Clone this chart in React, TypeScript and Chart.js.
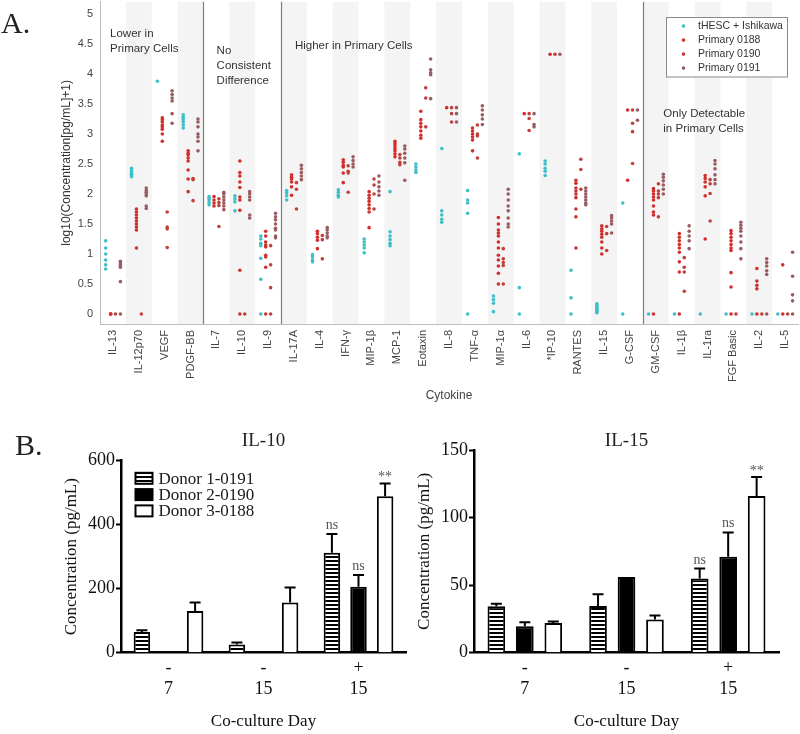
import React, { useEffect, useRef } from 'react';
import { Chart, registerables } from 'chart.js';

Chart.register(...registerables);

const SANS = "'Liberation Sans', Arial, Helvetica, sans-serif";
const SERIF = "'Liberation Serif', 'Times New Roman', serif";

// ---------------- Panel A data ----------------
const cytokines = [
  'IL-13', 'IL-12p70', 'VEGF', 'PDGF-BB', 'IL-7', 'IL-10', 'IL-9', 'IL-17A', 'IL-4', 'IFN-γ',
  'MIP-1β', 'MCP-1', 'Eotaxin', 'IL-8', 'TNF-α', 'MIP-1α', 'IL-6', '*IP-10', 'RANTES', 'IL-15',
  'G-CSF', 'GM-CSF', 'IL-1β', 'IL-1ra', 'FGF Basic', 'IL-2', 'IL-5',
];

const yTicksA = [0, 0.5, 1, 1.5, 2, 2.5, 3, 3.5, 4, 4.5, 5];

const tHESC: number[][] = [
  [1.22, 1.1, 1.0, 0.9, 0.82, 0.75],
  [2.43, 2.4, 2.37, 2.35, 2.33, 2.31, 2.29],
  [3.88],
  [3.32, 3.28, 3.24, 3.2, 3.15, 3.1],
  [1.96, 1.93, 1.9, 1.86, 1.82],
  [1.97, 1.92, 1.87, 1.72],
  [1.3, 1.25, 1.18, 1.14, 0.93, 0.58, 0],
  [2.06, 2.02, 1.97, 1.9],
  [0.99, 0.95, 0.9, 0.87],
  [2.07, 2.03, 1.98, 1.95],
  [1.25, 1.2, 1.15, 1.1, 1.02],
  [2.04, 1.37, 1.3, 1.24, 1.18, 1.14],
  [2.5, 2.45, 2.4, 2.36],
  [2.76, 1.72, 1.65, 1.58, 1.53],
  [2.06, 1.9, 1.85, 1.68, 0],
  [0.3, 0.24, 0.18, 0.04],
  [2.67, 0.44, 0],
  [2.55, 2.5, 2.43, 2.38, 2.31],
  [0.73, 0.27, 0],
  [0.17, 0.14, 0.12, 0.1, 0.08, 0.06, 0.04, 0.02],
  [1.85, 0],
  [0],
  [0],
  [0],
  [0],
  [0],
  [0],
];

const primary0188: number[][] = [
  [0, 0, 0],
  [1.75, 1.7, 1.65, 1.6, 1.55, 1.5, 1.45, 1.4, 1.1],
  [3.27, 3.24, 3.2, 3.15, 3.12, 3.08, 3.0, 2.88],
  [2.72, 2.68, 2.65, 2.6, 2.55, 2.4, 2.25, 2.04],
  [1.96, 1.9, 1.85, 1.8],
  [2.55, 2.36, 2.3, 2.2, 2.11, 1.95, 1.9, 1.73, 0.73, 0],
  [1.38, 1.3, 1.2, 1.15, 1.12, 0.98, 0.95, 0.78, 0],
  [2.32, 2.28, 2.25, 2.2, 2.12, 1.98],
  [1.38, 1.34, 1.28, 1.23, 1.09],
  [2.57, 2.53, 2.48, 2.45, 2.35, 2.19],
  [2.04, 1.98, 1.93, 1.88, 1.82, 1.76, 1.7, 1.44],
  [2.88, 2.84, 2.8, 2.76, 2.72, 2.67, 2.62],
  [3.38, 3.24, 3.18, 3.12, 3.05, 2.98, 2.93],
  [3.44],
  [3.1, 3.05, 3.0, 2.95, 2.9, 2.72],
  [1.61, 1.5, 1.4, 1.35, 1.3, 1.2, 1.1, 0.98, 0.9, 0.8, 0.68, 0.5],
  [3.34],
  [4.33],
  [2.23, 2.18, 2.1, 2.05, 2.0, 1.94, 1.75, 1.62, 1.1],
  [1.47, 1.42, 1.38, 1.33, 1.28, 1.2, 1.1, 1.0],
  [3.4, 2.23],
  [2.09, 2.05, 2.0, 1.95, 1.9, 1.8, 1.7, 1.65, 0],
  [1.34, 1.28, 1.22, 1.16, 1.1, 1.03, 0.87, 0.7, 0],
  [2.31, 2.26, 2.2, 2.12, 1.97, 1.25],
  [1.39, 1.34, 1.28, 1.22, 1.16, 1.1, 1.06, 0.69, 0.45, 0],
  [0.76, 0.55, 0.48, 0.42, 0],
  [0.82, 0],
];

const primary0190: number[][] = [
  [0],
  [0],
  [1.7, 1.45, 1.42, 1.11],
  [2.26, 2.24, 1.89],
  [1.92, 1.86, 1.81, 1.46],
  [0],
  [1.14, 0.82, 0.44, 0],
  [2.19, 2.08, 1.75],
  [1.31, 1.24, 0.92],
  [2.47, 2.38, 2.35, 2.03],
  [2.25, 2.15, 2.0, 1.75],
  [2.66, 2.6, 2.53, 2.49],
  [3.77, 3.6, 3.12],
  [3.44, 3.34, 3.2],
  [3.15, 3.0, 2.97, 2.6],
  [1.09, 0.92, 0.86, 0.81, 0.5],
  [3.34, 3.26, 3.06],
  [4.33],
  [2.58, 2.41, 2.08],
  [1.46, 1.34, 1.06],
  [3.4, 3.18, 3.04, 2.51],
  [2.17, 2.05, 2.0, 1.94, 1.62],
  [0.94, 0.78, 0.7, 0.38],
  [2.24, 2.17, 2.01, 1.55],
  [0],
  [0],
  [0],
];

const primary0191: number[][] = [
  [0.88, 0.85, 0.82, 0.8, 0.78, 0.54, 0],
  [2.1, 2.06, 2.03, 2.0, 1.97, 1.8, 1.76],
  [3.72, 3.66, 3.6, 3.55, 3.34, 3.18],
  [3.25, 3.2, 3.12, 3.0, 2.95, 2.88, 2.72],
  [2.03, 2.0, 1.95, 1.9, 1.85, 1.8, 1.74],
  [2.04, 2.0, 1.95, 1.9, 1.65, 1.6],
  [1.68, 1.62, 1.57, 1.5, 1.43, 1.4, 1.3, 1.27],
  [2.48, 2.42, 2.36, 2.3, 2.24],
  [1.44, 1.4, 1.35, 1.3, 1.27],
  [2.62, 2.56, 2.5, 2.45],
  [2.3, 2.2, 2.12, 2.05, 1.98],
  [2.8, 2.75, 2.68, 2.6, 2.52, 2.23],
  [4.25, 4.07, 4.02, 3.99, 3.59],
  [3.44, 3.34, 3.2],
  [3.47, 3.4, 3.32, 3.25, 3.16],
  [2.08, 2.0, 1.9, 1.8, 1.72, 1.6, 1.5, 1.45],
  [3.34, 3.16, 3.12],
  [4.33],
  [2.1, 2.05, 2.0, 1.95, 1.9, 1.85, 1.82],
  [1.64, 1.6, 1.55, 1.5, 1.35],
  [3.4, 3.23],
  [2.33, 2.28, 2.22, 2.15, 2.08, 2.0],
  [1.47, 1.38, 1.3, 1.22, 1.09],
  [2.56, 2.5, 2.42, 2.32, 2.24, 2.17],
  [1.53, 1.48, 1.43, 1.38, 1.3, 1.2, 1.09, 0.92],
  [0.92, 0.86, 0.8, 0.72, 0.66, 0],
  [1.03, 0.63, 0.32, 0.22, 0],
];

const seriesLabelsA = ['tHESC + Ishikawa', 'Primary 0188', 'Primary 0190', 'Primary 0191'];
const groupStarts = [0, 4, 7, 21];
const groupNotes = [
  ['Lower in', 'Primary Cells'],
  ['No', 'Consistent', 'Difference'],
  ['Higher in Primary Cells'],
  ['Only Detectable', 'in Primary Cells'],
];

// ---------------- Panel B data ----------------
const coculture = ['-', '-', '+'];
const days = ['7', '15', '15'];
const donors = ['Donor 1-0191', 'Donor 2-0190', 'Donor 3-0188'];

const il10Donor1 = [65, 26, 312];
const il10Donor2 = [0, 0, 206];
const il10Donor3 = [130, 157, 489];
const il10Err1 = [5, 6, 59];
const il10Err2 = [0, 0, 37];
const il10Err3 = [27, 47, 40];
const il10Sig1 = ['', '', 'ns'];
const il10Sig2 = ['', '', 'ns'];
const il10Sig3 = ['', '', '**'];

const il15Donor1 = [34.3, 34.6, 55];
const il15Donor2 = [19.5, 56, 71];
const il15Donor3 = [22, 24.5, 116];
const il15Err1 = [2, 8.6, 7.3];
const il15Err2 = [3, 0, 18];
const il15Err3 = [1, 3, 14];
const il15Sig1 = ['', '', 'ns'];
const il15Sig2 = ['', '', 'ns'];
const il15Sig3 = ['', '', '**'];

// ---------------- Panel A config ----------------
function panelAConfig(): any {
  const styles = [
    { values: tHESC, color: '#3dbfc8', dx: -0.28 },
    { values: primary0188, color: '#d22f2c', dx: -0.09 },
    { values: primary0190, color: '#c33f3a', dx: 0.1 },
    { values: primary0191, color: '#9b5c61', dx: 0.29 },
  ];
  const datasets = styles.map((s, k) => ({
    label: seriesLabelsA[k],
    data: s.values.flatMap((vals, i) => vals.map((v) => ({ x: i + s.dx, y: v }))),
    backgroundColor: s.color,
    borderColor: s.color,
    borderWidth: 0,
    pointRadius: 1.8,
    pointHoverRadius: 1.8,
  }));

  const notePos = [
    [-0.11, 4.67],
    [4.01, 4.39],
    [7.04, 4.47],
    [21.29, 3.34],
  ];

  const decor = {
    id: 'panelADecor',
    beforeDraw(chart: any) {
      const { ctx, chartArea: ca, scales } = chart;
      const x = scales.x;
      ctx.save();
      ctx.fillStyle = '#f4f4f4';
      cytokines.forEach((_, i) => {
        if (i % 2 === 1) {
          const l = x.getPixelForValue(i - 0.5);
          const r = x.getPixelForValue(i + 0.5);
          ctx.fillRect(l, ca.top, r - l, ca.bottom - ca.top);
        }
      });
      ctx.restore();
    },
    beforeDatasetsDraw(chart: any) {
      const { ctx, chartArea: ca, scales } = chart;
      const x = scales.x;
      ctx.save();
      ctx.strokeStyle = '#7d7d7d';
      ctx.lineWidth = 1.2;
      groupStarts.slice(1).forEach((g) => {
        const px = Math.round(x.getPixelForValue(g - 0.5)) + 0.5;
        ctx.beginPath();
        ctx.moveTo(px, ca.top);
        ctx.lineTo(px, ca.bottom);
        ctx.stroke();
      });
      ctx.restore();
    },
    afterDraw(chart: any) {
      const { ctx, chartArea: ca, scales } = chart;
      const x = scales.x;
      const y = scales.y;
      ctx.save();
      ctx.fillStyle = '#333';
      ctx.font = `11.5px ${SANS}`;
      ctx.textAlign = 'left';
      ctx.textBaseline = 'middle';
      groupNotes.forEach((lines, g) => {
        const px = x.getPixelForValue(notePos[g][0]);
        const py = y.getPixelForValue(notePos[g][1]);
        lines.forEach((t, li) => ctx.fillText(t, px, py + li * 15));
      });
      // legend box
      const bx = ca.right - 132;
      const by = ca.top + 15.5;
      const bw = 121;
      const bh = 59.5;
      ctx.fillStyle = '#fff';
      ctx.fillRect(bx, by, bw, bh);
      ctx.strokeStyle = '#8a8a8a';
      ctx.lineWidth = 1;
      ctx.strokeRect(Math.round(bx) + 0.5, Math.round(by) + 0.5, bw, bh);
      ctx.font = `10.5px ${SANS}`;
      chart.data.datasets.forEach((ds: any, k: number) => {
        const ry = by + 8.8 + k * 14;
        ctx.fillStyle = ds.backgroundColor;
        ctx.beginPath();
        ctx.arc(bx + 17.5, ry, 1.8, 0, Math.PI * 2);
        ctx.fill();
        ctx.fillStyle = '#333';
        ctx.fillText(ds.label, bx + 32, ry);
      });
      ctx.restore();
    },
  };

  return {
    type: 'scatter',
    data: { datasets },
    options: {
      responsive: false,
      animation: false,
      devicePixelRatio: 1,
      events: [],
      layout: { padding: { left: 0, right: 2, top: 0, bottom: 0 } },
      plugins: { legend: { display: false }, tooltip: { enabled: false } },
      scales: {
        x: {
          type: 'linear',
          min: -0.5,
          max: cytokines.length - 0.5,
          grid: { display: false, drawTicks: false, tickLength: 0 },
          border: { display: true, color: '#bdbdbd', width: 1 },
          afterBuildTicks: (s: any) => {
            s.ticks = cytokines.map((_, i) => ({ value: i }));
          },
          afterFit: (s: any) => {
            s.height = 86;
            s.paddingLeft = 0;
            s.paddingRight = 0;
          },
          ticks: {
            autoSkip: false,
            minRotation: 90,
            maxRotation: 90,
            padding: 6,
            color: '#444',
            font: { family: SANS, size: 11 },
            callback: (v: any) => cytokines[v] ?? '',
          },
          title: {
            display: true,
            text: 'Cytokine',
            color: '#444',
            font: { family: SANS, size: 12 },
            padding: { top: 0, bottom: 7 },
          },
        },
        y: {
          type: 'linear',
          min: -0.166,
          max: 5.204,
          grid: { display: false, drawTicks: false, tickLength: 0 },
          border: { display: true, color: '#bdbdbd', width: 1 },
          afterBuildTicks: (s: any) => {
            s.ticks = yTicksA.map((v) => ({ value: v }));
          },
          afterFit: (s: any) => {
            s.width = 100;
            s.paddingTop = 0;
            s.paddingBottom = 0;
          },
          ticks: {
            padding: 7,
            color: '#444',
            font: { family: SANS, size: 11 },
            callback: (v: any) => String(v),
          },
          title: {
            display: true,
            text: 'log10(Concentration[pg/mL]+1)',
            color: '#333',
            font: { family: SANS, size: 12 },
            padding: { top: 59, bottom: 0 },
          },
        },
      },
    },
    plugins: [decor],
  };
}

// ---------------- Panel B config ----------------
function makeHatch(): CanvasPattern | string {
  const c = document.createElement('canvas');
  c.width = 4;
  c.height = 4;
  const g = c.getContext('2d');
  if (!g) return '#888';
  g.fillStyle = '#fff';
  g.fillRect(0, 0, 4, 4);
  g.fillStyle = '#000';
  g.fillRect(0, 0, 4, 2);
  return g.createPattern(c, 'repeat') || '#888';
}

type BarOpts = {
  title: string;
  values: number[][];
  errors: number[][];
  sig: string[][];
  yMax: number;
  yStep: number;
  axisWidth: number;
  titlePad: number;
  padRight: number;
  padTop: number;
  legend: boolean;
};

function barConfig(o: BarOpts): any {
  const fills = [makeHatch(), '#000', '#fff'];
  const datasets = donors.map((label, k) => ({
    label,
    data: o.values[k],
    errors: o.errors[k],
    sig: o.sig[k],
    backgroundColor: fills[k],
    borderColor: '#000',
    borderWidth: 2,
    barPercentage: 0.62,
    categoryPercentage: 0.84,
  }));

  const extras = {
    id: 'barExtras',
    afterDatasetsDraw(chart: any) {
      const { ctx, scales } = chart;
      const y = scales.y;
      ctx.save();
      chart.data.datasets.forEach((ds: any, k: number) => {
        const meta = chart.getDatasetMeta(k);
        meta.data.forEach((bar: any, j: number) => {
          const v = ds.data[j];
          const err = ds.errors[j] || 0;
          const top = y.getPixelForValue(v + err);
          if (err > 0) {
            ctx.strokeStyle = '#000';
            ctx.lineWidth = 2;
            ctx.beginPath();
            ctx.moveTo(bar.x, bar.y);
            ctx.lineTo(bar.x, top);
            ctx.moveTo(bar.x - 5.5, top);
            ctx.lineTo(bar.x + 5.5, top);
            ctx.stroke();
          }
          const s = ds.sig[j];
          if (s) {
            ctx.fillStyle = '#555';
            ctx.font = `14px ${SERIF}`;
            ctx.textAlign = 'center';
            ctx.textBaseline = 'alphabetic';
            ctx.fillText(s, bar.x, top - (s === '**' ? 2 : 5));
          }
        });
      });
      ctx.restore();
    },
    afterDraw(chart: any) {
      const { ctx, chartArea: ca } = chart;
      ctx.save();
      ctx.fillStyle = '#222';
      ctx.font = `19px ${SERIF}`;
      ctx.textAlign = 'center';
      ctx.textBaseline = 'alphabetic';
      ctx.fillText(o.title, (ca.left + ca.right) / 2, 26);
      if (o.legend) {
        ctx.font = `17px ${SERIF}`;
        ctx.textAlign = 'left';
        ctx.textBaseline = 'middle';
        chart.data.datasets.forEach((ds: any, k: number) => {
          const cy = ca.top + 17.6 + k * 16.3;
          const bx = ca.left + 14.5;
          ctx.fillStyle = ds.backgroundColor;
          ctx.fillRect(bx, cy - 5.5, 17, 11);
          ctx.strokeStyle = '#000';
          ctx.lineWidth = 2;
          ctx.strokeRect(bx, cy - 5.5, 17, 11);
          ctx.fillStyle = '#1a1a1a';
          ctx.fillText(ds.label, bx + 23, cy + 1);
        });
      }
      ctx.restore();
    },
  };

  return {
    type: 'bar',
    data: {
      labels: coculture.map((c, i) => [c, days[i]]),
      datasets,
    },
    options: {
      responsive: false,
      animation: false,
      devicePixelRatio: 1,
      events: [],
      layout: { padding: { left: 0, right: o.padRight, top: o.padTop, bottom: 0 } },
      plugins: { legend: { display: false }, tooltip: { enabled: false } },
      scales: {
        x: {
          type: 'category',
          grid: { display: false, drawTicks: false, tickLength: 0 },
          border: { display: true, color: '#000', width: 2.5 },
          afterFit: (s: any) => {
            s.height = 81.3;
          },
          ticks: {
            color: '#111',
            padding: 5,
            font: { family: SERIF, size: 18, lineHeight: 1.17 },
          },
          title: {
            display: true,
            text: 'Co-culture Day',
            color: '#111',
            font: { family: SERIF, size: 17 },
            padding: { top: 0, bottom: 2 },
          },
        },
        y: {
          type: 'linear',
          min: 0,
          max: o.yMax,
          grid: {
            display: true,
            drawOnChartArea: false,
            drawTicks: true,
            tickLength: 5,
            tickWidth: 2,
            tickColor: '#000',
            color: '#000',
          },
          border: { display: true, color: '#000', width: 2.5 },
          afterFit: (s: any) => {
            s.width = o.axisWidth;
          },
          ticks: {
            stepSize: o.yStep,
            color: '#111',
            padding: 1,
            font: { family: SERIF, size: 18 },
          },
          title: {
            display: true,
            text: 'Concentration (pg/mL)',
            color: '#111',
            font: { family: SERIF, size: 17 },
            padding: { top: o.titlePad, bottom: 0 },
          },
        },
      },
    },
    plugins: [extras],
  };
}

export default function App() {
  const aRef = useRef<HTMLCanvasElement>(null);
  const b1Ref = useRef<HTMLCanvasElement>(null);
  const b2Ref = useRef<HTMLCanvasElement>(null);

  useEffect(() => {
    const charts: Chart[] = [];
    if (aRef.current) charts.push(new Chart(aRef.current, panelAConfig()));
    if (b1Ref.current)
      charts.push(
        new Chart(
          b1Ref.current,
          barConfig({
            title: 'IL-10',
            values: [il10Donor1, il10Donor2, il10Donor3],
            errors: [il10Err1, il10Err2, il10Err3],
            sig: [il10Sig1, il10Sig2, il10Sig3],
            yMax: 600,
            yStep: 200,
            axisWidth: 121,
            titlePad: 61.5,
            padRight: 4,
            padTop: 40.7,
            legend: true,
          })
        )
      );
    if (b2Ref.current)
      charts.push(
        new Chart(
          b2Ref.current,
          barConfig({
            title: 'IL-15',
            values: [il15Donor1, il15Donor2, il15Donor3],
            errors: [il15Err1, il15Err2, il15Err3],
            sig: [il15Sig1, il15Sig2, il15Sig3],
            yMax: 150,
            yStep: 50,
            axisWidth: 64,
            titlePad: 4.8,
            padRight: 21,
            padTop: 30,
            legend: false,
          })
        )
      );
    return () => charts.forEach((c) => c.destroy());
  }, []);

  return (
    <div style={{ position: 'absolute', left: 0, top: 0, width: 800, height: 734, background: '#fff', overflow: 'hidden' }}>
      <canvas ref={aRef} width={800} height={410} style={{ position: 'absolute', left: 0, top: 0 }} />
      <canvas ref={b1Ref} width={410} height={314} style={{ position: 'absolute', left: 0, top: 420 }} />
      <canvas ref={b2Ref} width={390} height={314} style={{ position: 'absolute', left: 410, top: 420 }} />
      <div style={{ position: 'absolute', left: 1, top: 8, font: `30px ${SERIF}`, lineHeight: '30px', color: '#222' }}>A.</div>
      <div style={{ position: 'absolute', left: 15, top: 430, font: `30px ${SERIF}`, lineHeight: '30px', color: '#222' }}>B.</div>
    </div>
  );
}
